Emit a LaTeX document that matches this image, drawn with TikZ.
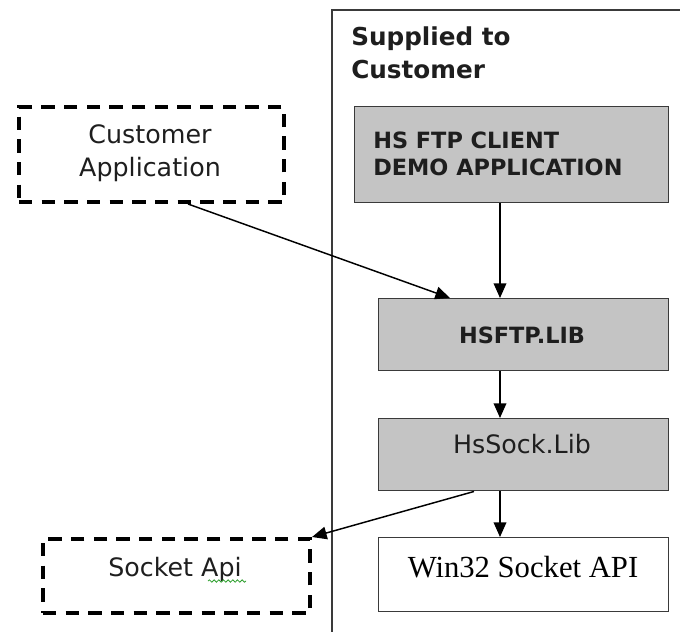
\documentclass[tikz,border=0pt]{standalone}
\usepackage{fontspec}
\setmainfont{DejaVu Sans}
\newfontfamily\serifwin{Liberation Serif}
\usetikzlibrary{arrows.meta,decorations.pathmorphing}
\definecolor{boxgray}{HTML}{C4C4C4}
\definecolor{edgegray}{HTML}{3A3A3A}
\definecolor{txtgray}{HTML}{1E1E1E}
\definecolor{spellgreen}{HTML}{2EA02E}
\begin{document}
\begin{tikzpicture}[x=0.75pt,y=-0.75pt,
  solidbox/.style={draw=edgegray,line width=1.1pt,fill=boxgray,rectangle,inner sep=0pt,anchor=north west},
  whitebox/.style={draw=edgegray,line width=1.1pt,fill=white,rectangle,inner sep=0pt,anchor=north west},
  dashbox/.style={draw=black,line width=3pt,dash pattern=on 10pt off 7pt,rectangle,inner sep=0pt,anchor=north west},
  arr/.style={draw=black,line width=1.1pt,-{Triangle[length=11pt,width=9.5pt]}},
  boldtxt/.style={font=\fontsize{16.8}{20.25}\selectfont\bfseries,text=txtgray,inner sep=0pt},
  normtxt/.style={font=\fontsize{19}{24.75}\selectfont,text=txtgray,inner sep=0pt},
]
\useasboundingbox (0,0) rectangle (680,632);
% container
\draw[draw=edgegray,line width=1.1pt] (680,10) -- (332,10) -- (332,632);
\node[boldtxt,font=\fontsize{18.5}{24.75}\selectfont\bfseries,align=left,anchor=base west] (sup) at (351,78) {Supplied to\\Customer};
% boxes
\node[solidbox,minimum width=314*0.75pt,minimum height=96*0.75pt] (client) at (354,106) {};
\node[boldtxt,align=left,anchor=base west] (clienttxt) at (373,175) {HS FTP CLIENT\\DEMO APPLICATION};
\node[solidbox,minimum width=290*0.75pt,minimum height=72*0.75pt] (hsftp) at (378,298) {};
\node[boldtxt,anchor=base] (hsftptxt) at (522,343) {HSFTP.LIB};
\node[solidbox,minimum width=290*0.75pt,minimum height=72*0.75pt] (sock) at (378,418) {};
\node[normtxt,anchor=base] (socktxt) at (522,453) {HsSock.Lib};
\node[whitebox,minimum width=290*0.75pt,minimum height=74*0.75pt] (win) at (378,537) {};
\node[inner sep=0pt,anchor=base,text=black,font=\fontsize{23}{27}\selectfont\serifwin] (wintxt) at (523,577) {Win32 Socket API};
\node[dashbox,minimum width=265*0.75pt,minimum height=95*0.75pt] (custapp) at (17,105) {};
\node[normtxt,align=center,anchor=base] (custtxt) at (150,176) {Customer\\Application};
\node[dashbox,minimum width=267*0.75pt,minimum height=74*0.75pt] (sapi) at (41,537) {};
\node[normtxt,anchor=base] (sapitxt) at (175,576) {Socket Api};
\draw[spellgreen,line width=0.6pt,decorate,decoration={snake,segment length=3.5pt,amplitude=0.9pt}] (208,581) -- (246,581);
% connectors
\coordinate (ax) at (500,0);
\coordinate (a188) at (188,0);
\coordinate (a450) at (450,0);
\coordinate (a474) at (474,0);
\draw[arr] (client.south -| ax) -- (hsftp.north -| ax);
\draw[arr] (hsftp.south -| ax) -- (sock.north -| ax);
\draw[arr] (sock.south -| ax) -- (win.north -| ax);
\draw[arr] (custapp.south -| a188) -- (hsftp.north -| a450);
\draw[arr] (sock.south -| a474) -- (sapi.north east);
\end{tikzpicture}
\end{document}
